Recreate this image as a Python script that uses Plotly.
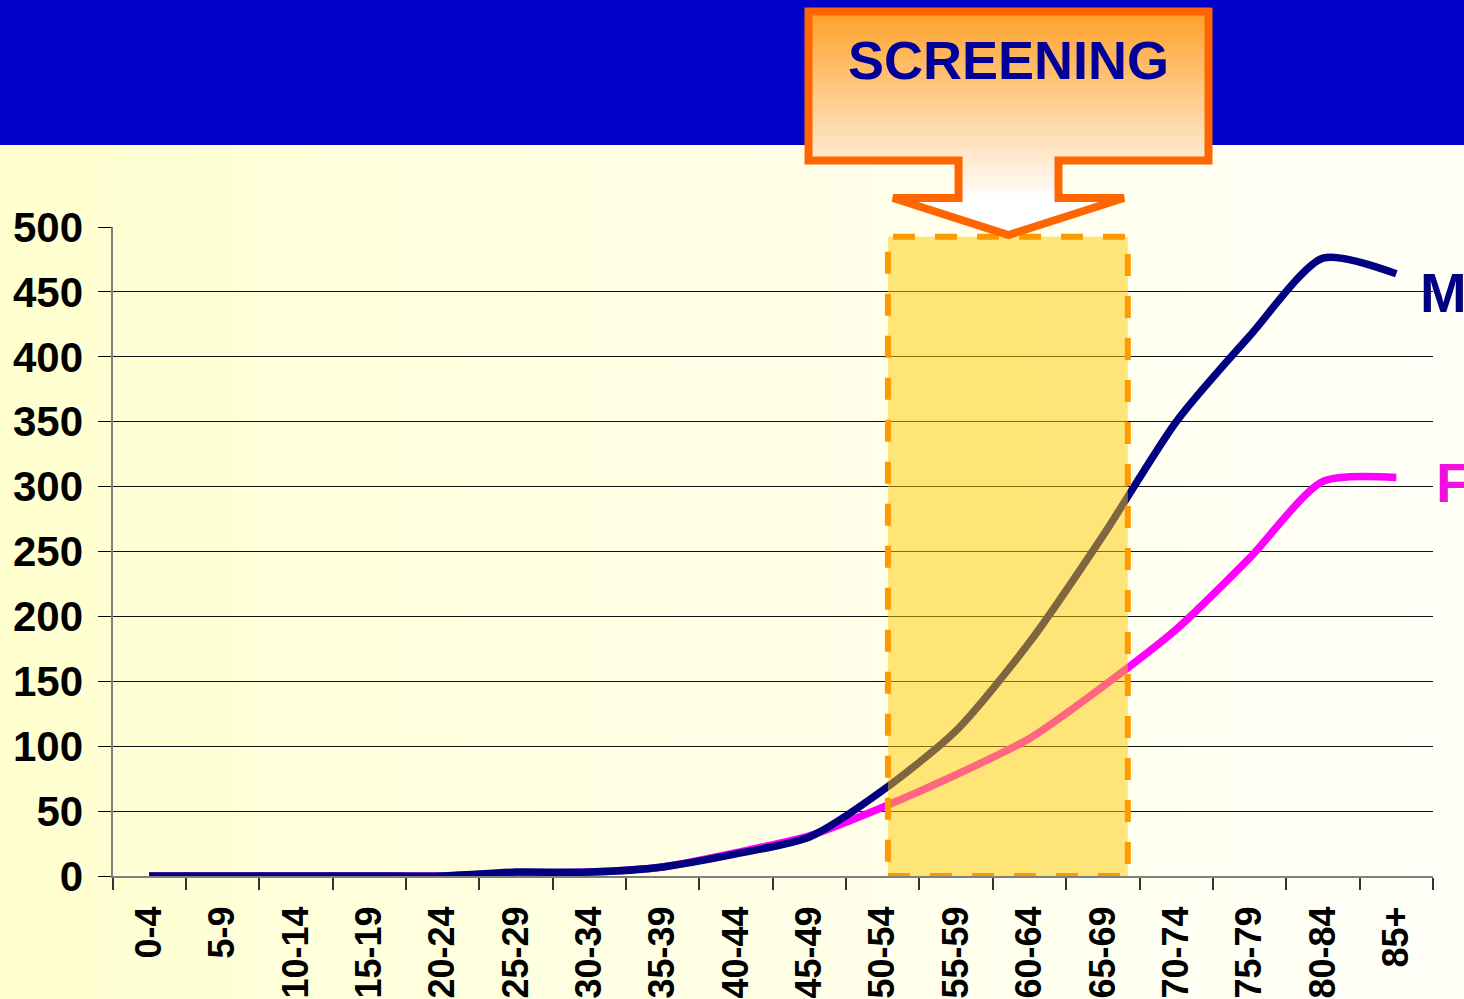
import plotly.graph_objects as go

# Age groups and incidence values (per 100,000)
age_groups = ["0-4", "5-9", "10-14", "15-19", "20-24", "25-29", "30-34", "35-39",
              "40-44", "45-49", "50-54", "55-59", "60-64", "65-69", "70-74",
              "75-79", "80-84", "85+"]
males = [0, 0, 0, 0, 0, 3, 3, 7, 17, 30, 66, 112, 180, 262, 350, 416, 476, 464]
females = [0, 0, 0, 0, 0, 2, 3, 7, 18, 31, 53, 78, 106, 146, 190, 245, 304, 307]
y_ticks = [0, 50, 100, 150, 200, 250, 300, 350, 400, 450, 500]

# Screening window on the category axis (index units) and its height
screen_x0, screen_x1, screen_top = 10.07, 13.34, 492.5

W, H = 1464, 999
FONT = "Liberation Sans, Arial, sans-serif"


def px(x):
    return x / W


def py(y):
    return 1 - y / H


shapes = []

# Cream background fading from yellow on the left to near white on the right
n_strips = 74
for i in range(n_strips):
    x0 = i * W / n_strips
    x1 = (i + 1) * W / n_strips + 0.6
    t = ((i + 0.5) / n_strips) ** 0.8
    b = int(round(206 + 42 * t))
    shapes.append(dict(type="rect", xref="paper", yref="paper",
                       x0=px(x0), x1=px(x1), y0=0, y1=1,
                       fillcolor=f"rgb(255,255,{b})", line_width=0, layer="below"))

# Blue title band
shapes.append(dict(type="rect", xref="paper", yref="paper",
                   x0=0, x1=1, y0=py(145), y1=1,
                   fillcolor="#0000C8", line_width=0, layer="below"))

# Highlighted screening window drawn over the lines
shapes.append(dict(type="rect", xref="x", yref="y",
                   x0=screen_x0, x1=screen_x1, y0=0, y1=screen_top,
                   fillcolor="rgba(255,204,0,0.5)",
                   line=dict(color="#FF9900", width=6, dash="22px,20px"),
                   layer="above"))

# Callout arrow geometry (stroke centre line)
bx0, bx1, by0, by1 = 808.5, 1208.5, 11.5, 160.5
sx0, sx1, sy1 = 958.5, 1058.5, 198.0
hx0, hx1, tipx, tipy = 893.0, 1124.0, 1008.5, 235.0
grad_top, grad_bot = 11.5, 200.0


def callout_span(y):
    if y < by1:
        return bx0, bx1
    if y < sy1:
        return sx0, sx1
    f = max(0.0, (tipy - y) / (tipy - sy1))
    return tipx - (tipx - hx0) * f, tipx + (hx1 - tipx) * f


def grad_color(y):
    t = min(1.0, max(0.0, (y - grad_top) / (grad_bot - grad_top)))
    g = int(round(160 + (255 - 160) * t))
    b = int(round(40 + (255 - 40) * t))
    return f"rgb(255,{g},{b})"


# Gradient fill of the callout, built from thin horizontal bands
edges = []
y = by0
while y < tipy:
    edges.append(y)
    y += 2.0
edges.append(tipy)
for k in (by1, sy1):
    if k not in edges:
        edges.append(k)
edges = sorted(edges)
for a, b in zip(edges[:-1], edges[1:]):
    mid = 0.5 * (a + b)
    la, ra = callout_span(a if a >= sy1 else mid)
    lb, rb = callout_span(b if a >= sy1 else mid)
    bb = b + 0.6
    path = (f"M {px(la)},{py(a)} L {px(ra)},{py(a)} "
            f"L {px(rb)},{py(bb)} L {px(lb)},{py(bb)} Z")
    shapes.append(dict(type="path", xref="paper", yref="paper", path=path,
                       fillcolor=grad_color(mid), line_width=0, layer="above"))

# Callout outline
pts = [(bx0, by0), (bx1, by0), (bx1, by1), (sx1, by1), (sx1, sy1), (hx1, sy1),
       (tipx, tipy), (hx0, sy1), (sx0, sy1), (sx0, by1), (bx0, by1)]
outline = "M " + " L ".join(f"{px(x)},{py(y)}" for x, y in pts) + " Z"
shapes.append(dict(type="path", xref="paper", yref="paper", path=outline,
                   line=dict(color="#FF6600", width=8), layer="above"))

fig = go.Figure()
fig.add_trace(go.Scatter(x=age_groups, y=females, mode="lines", name="F",
                         line=dict(color="#FF00FF", width=7.5, shape="spline", smoothing=0.7),
                         hoverinfo="skip"))
fig.add_trace(go.Scatter(x=age_groups, y=males, mode="lines", name="M",
                         line=dict(color="#000080", width=7.5, shape="spline", smoothing=0.7),
                         hoverinfo="skip"))

annotations = [
    dict(text="SCREENING", xref="paper", yref="paper", x=px(1008), y=py(60),
         xanchor="center", yanchor="middle", showarrow=False,
         font=dict(family=FONT, size=54, color="#000099", weight="bold")),
    dict(text="M", xref="paper", yref="paper", x=px(1418), y=py(292),
         xanchor="left", yanchor="middle", showarrow=False,
         font=dict(family=FONT, size=56, color="#000080", weight="bold")),
    dict(text="F", xref="paper", yref="paper", x=px(1434), y=py(482),
         xanchor="left", yanchor="middle", showarrow=False,
         font=dict(family=FONT, size=56, color="#F010E0", weight="bold")),
]

fig.update_layout(
    width=W, height=H,
    margin=dict(l=0, r=0, t=0, b=0, autoexpand=False),
    paper_bgcolor="#FFFFE8",
    plot_bgcolor="rgba(0,0,0,0)",
    showlegend=False,
    hovermode=False,
    shapes=shapes,
    annotations=annotations,
    xaxis=dict(
        domain=[px(112.5), px(1433)],
        type="category",
        range=[-0.5, len(age_groups) - 0.5],
        tickson="boundaries",
        ticks="outside", ticklen=12, tickcolor="#333333", tickwidth=1.5,
        tickangle=-90,
        ticklabelstandoff=14,
        tickfont=dict(family=FONT, size=36, color="#000000", weight="bold"),
        showline=True, linecolor="#808080", linewidth=2,
        showgrid=False, zeroline=False,
        automargin=False,
        fixedrange=True,
    ),
    yaxis=dict(
        domain=[py(876), py(227)],
        range=[0, 500],
        tickvals=y_ticks,
        ticks="outside", ticklen=13, tickcolor="#000000", tickwidth=1,
        ticklabelstandoff=6,
        tickfont=dict(family=FONT, size=42, color="#000000", weight="bold"),
        showline=True, linecolor="#808080", linewidth=2,
        showgrid=True, gridcolor="#111111", gridwidth=1,
        zeroline=False,
        automargin=False,
        fixedrange=True,
    ),
)

fig.write_html("out.html", config={"displayModeBar": False})
